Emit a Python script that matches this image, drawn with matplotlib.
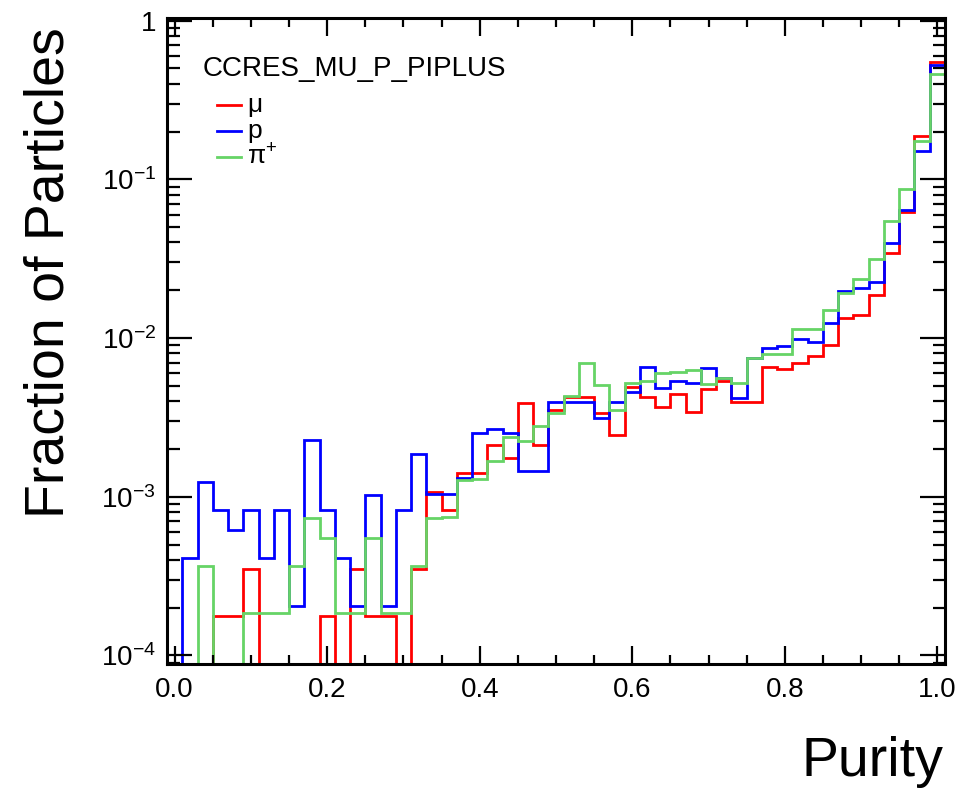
import numpy as np
import matplotlib
matplotlib.use("Agg")
import matplotlib.pyplot as plt
from matplotlib.ticker import MultipleLocator, LogLocator, FuncFormatter, NullFormatter
from matplotlib.lines import Line2D

plt.rcParams['font.family'] = ['Liberation Sans', 'DejaVu Sans']
plt.rcParams['mathtext.fontset'] = 'custom'
plt.rcParams['mathtext.rm'] = 'Liberation Sans'
plt.rcParams['mathtext.it'] = 'Liberation Sans'
plt.rcParams['mathtext.sf'] = 'Liberation Sans'

sample_name = "CCRES_MU_P_PIPLUS"
labels = ["\u03bc", "p", "\u03c0$^{+}$"]
colors = ["#ff0000", "#0000ff", "#66d466"]

# 51 bins of width 0.02 centred on 0.00, 0.02, ... 1.00
bin_low, bin_high, n_bins = -0.01, 1.01, 51

frac_mu = [0, 0, 0, 1.76e-4, 1.76e-4, 3.51e-4, 0, 0, 0, 0,
           1.76e-4, 0, 3.51e-4, 1.76e-4, 1.76e-4, 0, 3.51e-4, 1.065e-3, 8.3e-4, 1.41e-3,
           1.41e-3, 2.12e-3, 1.75e-3, 3.88e-3, 2.12e-3, 3.52e-3, 4.24e-3, 4.24e-3, 3.36e-3, 2.45e-3,
           4.94e-3, 4.27e-3, 3.70e-3, 4.45e-3, 3.40e-3, 4.78e-3, 5.37e-3, 3.96e-3, 3.96e-3, 6.55e-3,
           6.36e-3, 6.92e-3, 7.68e-3, 9.05e-3, 1.333e-2, 1.398e-2, 1.855e-2, 3.44e-2, 6.18e-2, 0.188,
           0.551]
frac_p = [0, 4.14e-4, 1.235e-3, 8.26e-4, 6.18e-4, 8.26e-4, 4.14e-4, 8.26e-4, 2.06e-4, 2.28e-3,
          8.26e-4, 4.14e-4, 2.06e-4, 1.03e-3, 2.06e-4, 8.26e-4, 1.85e-3, 1.04e-3, 1.04e-3, 1.31e-3,
          2.51e-3, 2.66e-3, 2.51e-3, 1.46e-3, 1.46e-3, 3.93e-3, 3.98e-3, 3.98e-3, 3.13e-3, 3.98e-3,
          4.60e-3, 6.60e-3, 4.83e-3, 5.39e-3, 5.24e-3, 6.43e-3, 5.58e-3, 4.20e-3, 7.46e-3, 8.60e-3,
          8.88e-3, 9.90e-3, 9.49e-3, 1.245e-2, 1.98e-2, 2.06e-2, 2.26e-2, 3.99e-2, 6.38e-2, 0.151,
          0.525]
frac_pi = [0, 0, 3.68e-4, 0, 0, 1.85e-4, 1.85e-4, 1.85e-4, 3.68e-4, 7.39e-4,
           5.53e-4, 1.85e-4, 1.85e-4, 5.53e-4, 1.85e-4, 1.85e-4, 3.68e-4, 7.39e-4, 7.4e-4, 1.28e-3,
           1.30e-3, 1.68e-3, 2.39e-3, 2.25e-3, 2.79e-3, 3.36e-3, 4.32e-3, 6.95e-3, 5.07e-3, 3.52e-3,
           5.24e-3, 5.39e-3, 6.00e-3, 6.14e-3, 6.32e-3, 5.10e-3, 5.58e-3, 5.22e-3, 7.46e-3, 7.98e-3,
           7.98e-3, 1.141e-2, 1.141e-2, 1.503e-2, 1.915e-2, 2.35e-2, 3.14e-2, 5.45e-2, 8.73e-2, 0.174,
           0.461]

ymin, ymax = 8.9e-5, 1.038

fig = plt.figure(figsize=(9.74, 7.91), dpi=100)
ax = fig.add_axes([167 / 974, 1 - 663.5 / 791, (945 - 167) / 974, (663.5 - 18) / 791])

edges = np.linspace(bin_low, bin_high, n_bins + 1)
for vals, c in zip([frac_mu, frac_p, frac_pi], colors):
    v = np.maximum(np.array(vals), ymin)  # empty bins sit on the frame, like ROOT
    ax.stairs(v, edges, baseline=None, color=c, lw=2.0)

ax.set_yscale("log")
ax.set_xlim(bin_low, bin_high)
ax.set_ylim(ymin, ymax)

ax.xaxis.set_major_locator(MultipleLocator(0.2))
ax.xaxis.set_minor_locator(MultipleLocator(0.05))
ax.xaxis.set_major_formatter(FuncFormatter(lambda x, p: "%.1f" % x))
ax.yaxis.set_major_locator(LogLocator(base=10, numticks=10))
ax.yaxis.set_minor_locator(LogLocator(base=10, subs=np.arange(2, 10), numticks=20))
ax.yaxis.set_minor_formatter(NullFormatter())

def ylab(y, pos):
    e = int(round(np.log10(y)))
    if e == 0:
        return "1"
    return r"$10^{%d}$" % e
ax.yaxis.set_major_formatter(FuncFormatter(ylab))

ax.tick_params(which="both", direction="in", top=True, right=True, width=1.6, labelsize=20)
ax.tick_params(axis="x", which="major", length=13, pad=10)
ax.tick_params(axis="x", which="minor", length=6.5)
ax.tick_params(axis="y", which="major", length=18, pad=8)
ax.tick_params(axis="y", which="minor", length=9)
for s in ax.spines.values():
    s.set_linewidth(2.2)

# legend drawn in axes fraction
ax.text(0.046, 1 - (69 - 18) / 645.5, sample_name, transform=ax.transAxes,
        fontsize=20, ha="left", va="center")
for i, (lab, c) in enumerate(zip(labels, colors)):
    yy = 1 - ([105, 131, 157][i] - 18) / 645.5
    ax.add_line(Line2D([0.064, 0.095], [yy, yy], transform=ax.transAxes, color=c, lw=2.0))
    ax.text(0.103, yy, lab, transform=ax.transAxes, fontsize=19, ha="left", va="center")

fig.text(50 / 974, 1 - 273 / 791, "Fraction of Particles", rotation=90,
         ha="center", va="center", fontsize=40)
fig.text(943 / 974, 1 - 776 / 791, "Purity", ha="right", va="baseline", fontsize=40)

fig.savefig("out.png", dpi=100)
